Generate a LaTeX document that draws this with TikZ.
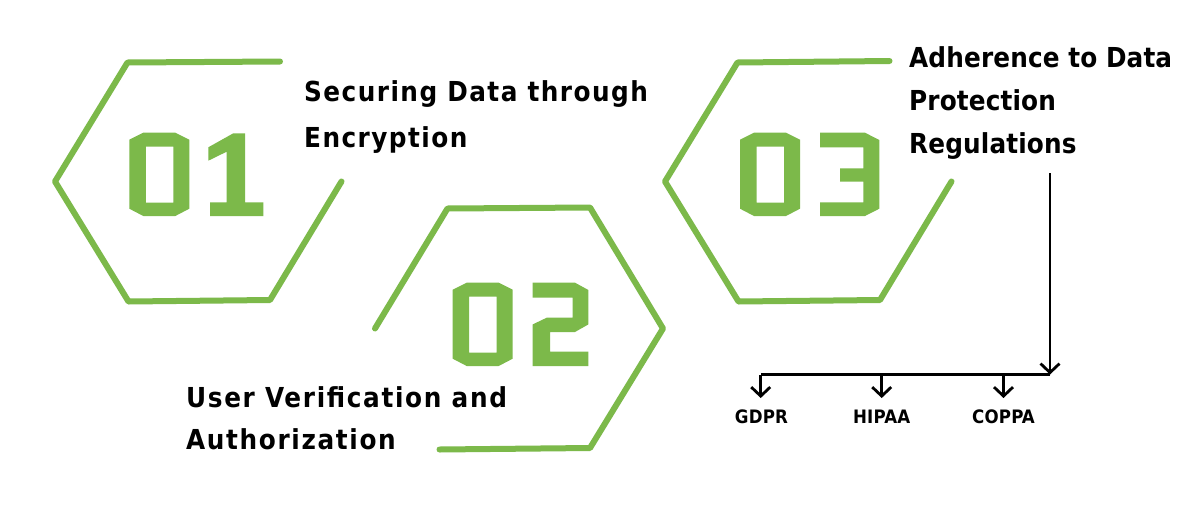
\documentclass[tikz,border=0pt]{standalone}
\usepackage{fontspec}
\setmainfont{DejaVu Sans}
\newfontfamily\labfontA{DejaVu Sans Condensed Bold}[LetterSpace=5.3]
\newfontfamily\labfontB{DejaVu Sans Condensed Bold}[LetterSpace=6]
\newfontfamily\labfontC{DejaVu Sans Condensed Bold}[LetterSpace=0.5]
\newfontfamily\smallfont{DejaVu Sans Condensed Bold}[LetterSpace=1]
\usetikzlibrary{arrows.meta}
\definecolor{hexgreen}{RGB}{124,185,74}
\tikzset{
  hexline/.style={draw=hexgreen, line width=6pt, line cap=round, line join=round},
  digitfill/.style={fill=hexgreen, draw=none, even odd rule},
  lab/.style={align=left, inner sep=0pt, anchor=base west, text=black},
  smalllab/.style={font=\smallfont\fontsize{18.5}{18.5}\selectfont, inner sep=0pt, text=black},
  branch/.style={draw=black, line width=2.8pt},
  arr/.style={branch, -{Straight Barb[length=9pt,width=19pt,line width=2.8pt]}},
  pics/zero/.style={code={
    \path[digitfill] (14,0) -- (46,0) -- (60,7) -- (60,76) -- (46,83.3) -- (14,83.3) -- (0,76) -- (0,7) -- cycle
      (16.5,14) -- (44,14) -- (44,70) -- (16.5,70) -- cycle;}},
  pics/one/.style={code={
    \path[digitfill] (0,14) -- (25,0) -- (36.7,0) -- (36.7,69) -- (55,69) -- (55,82.7) -- (1.7,82.7) -- (1.7,69) -- (18.4,69) -- (18.4,18.4) -- (0,27.4) -- cycle;}},
  pics/two/.style={code={
    \path[digitfill] (0,0) -- (42.3,0) -- (55.7,7.3) -- (55.7,41.7) -- (42.3,49.3) -- (17.3,49.3) -- (17.3,69) -- (55.7,69) -- (55.7,83.3) -- (0,83.3) -- (0,41.7) -- (14,35) -- (40,35) -- (40,15) -- (0,15) -- cycle;}},
  pics/three/.style={code={
    \path[digitfill] (0,0) -- (45,0) -- (59.3,7.3) -- (59.3,76) -- (45,83.3) -- (0,83.3) -- (0,69.7) -- (43.3,69.7) -- (43.3,49) -- (20,49) -- (20,35.7) -- (43.3,35.7) -- (43.3,14.7) -- (0,14.7) -- cycle;}}
}
\begin{document}
\begin{tikzpicture}[x=1pt,y=-1pt]
\useasboundingbox[fill=white] (0,0) rectangle (1200,504);

% hexagon 1
\draw[hexline] (280,61.5) -- (127.5,62.5) -- (55,181.5) -- (128.5,301.5) -- (270,300) -- (341.5,181.5);
% hexagon 2
\draw[hexline] (375,328.5) -- (447.5,208.5) -- (590,207.5) -- (663,328.5) -- (590,448) -- (439.5,449.5);
% hexagon 3
\draw[hexline] (889.5,61) -- (737.5,62.5) -- (665,181.5) -- (738.5,301.5) -- (880,300) -- (951.5,181.5);

% numbers
\pic at (129.3,132.7) {zero};
\pic at (208.3,133.3) {one};
\pic at (452.7,282.7) {zero};
\pic at (532.7,282.7) {two};
\pic at (740,132.7) {zero};
\pic at (820,132.7) {three};

% texts (base anchor = baseline of last line)
\node[lab, font=\labfontA\fontsize{27.5}{46}\selectfont] (t1) at (304,147.5) {Securing Data through\\Encryption};
\node[lab, font=\labfontB\fontsize{27.5}{41.6}\selectfont] (t2) at (186,449.5) {User Verification and\\Authorization};
\node[lab, font=\labfontC\fontsize{27.5}{42.8}\selectfont] (t3) at (909,153.3) {Adherence to Data\\Protection\\Regulations};

% regulation labels
\node[smalllab] (gdpr) at (761.5,416.3) {GDPR};
\node[smalllab] (hipaa) at (881.7,416.3) {HIPAA};
\node[smalllab] (coppa) at (1003.5,416.3) {COPPA};

% connectors
\coordinate (top) at (1050,173);
\coordinate (corner) at (1050,374.5);
\coordinate (left) at (760.7,374.5);
\draw[arr] (top) -- (corner);
\draw[branch] (corner) -- (left);
\draw[arr] (left) -- (left |- 0,398);
\draw[arr] (hipaa.north |- corner) -- (hipaa.north |- 0,398);
\draw[arr] (coppa.north |- corner) -- (coppa.north |- 0,398);
\end{tikzpicture}
\end{document}
